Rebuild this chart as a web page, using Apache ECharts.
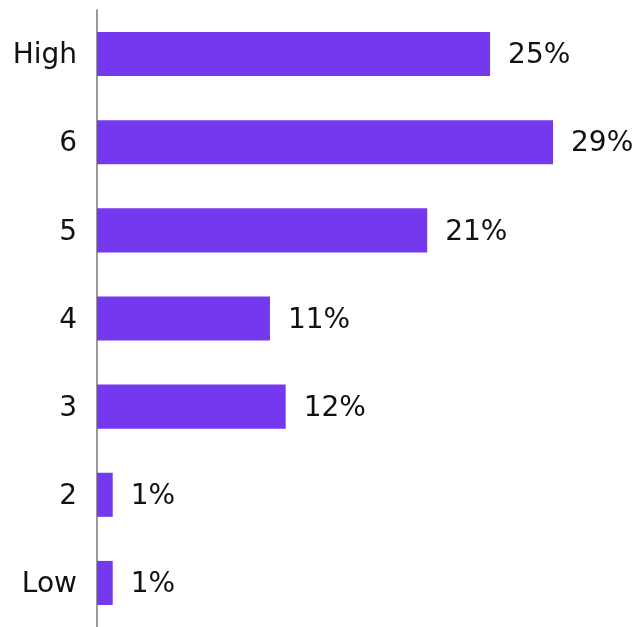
<!DOCTYPE html>
<html>
<head>
<meta charset="utf-8">
<script src="https://cdn.jsdelivr.net/npm/echarts@6/dist/echarts.min.js"></script>
<style>
  html, body { margin: 0; padding: 0; background: #fff; }
  #chart { width: 643px; height: 627px; }
</style>
</head>
<body>
<div id="chart"></div>
<script>
// categories top to bottom
const categories = ['High', '6', '5', '4', '3', '2', 'Low'];
const values = [25, 29, 21, 11, 12, 1, 1];

const chart = echarts.init(document.getElementById('chart'));

chart.setOption({
    animation: false,
    grid: {left: 97, right: 90, top: 10, bottom: 0, containLabel: false},
    xAxis: {
        type: 'value',
        min: 0,
        max: 29,
        show: false
    },
    yAxis: {
        type: 'category',
        inverse: true,
        data: categories,
        axisLine: {show: true, lineStyle: {color: '#999', width: 2}},
        axisTick: {show: false},
        axisLabel: {
            margin: 20,
            formatter: function (v) {
                return '{t|' + v + '}';
            },
            rich: {
                t: {
                    color: '#111',
                    fontFamily: 'DejaVu Sans',
                    fontSize: 28,
                    padding: [4, 0, 0, 0]
                }
            }
        }
    },
    series: [{
        type: 'bar',
        data: values,
        barWidth: '50%',
        itemStyle: {color: '#7438EE'},
        label: {
            show: true,
            position: 'right',
            distance: 18,
            offset: [0, 2],
            formatter: '{c}%',
            color: '#111',
            fontFamily: 'DejaVu Sans',
            fontSize: 28
        }
    }]
});
</script>
</body>
</html>
